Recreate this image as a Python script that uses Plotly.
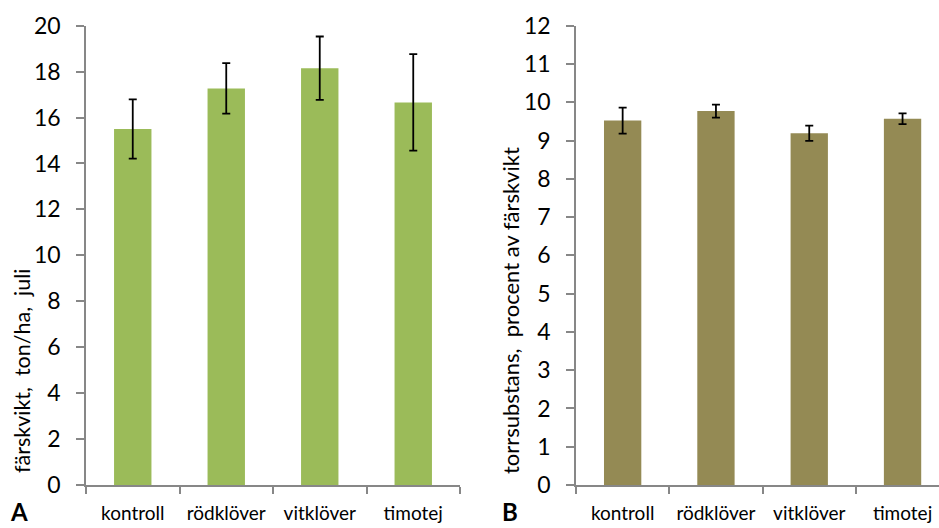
import plotly.graph_objects as go

categories = ["kontroll", "rödklöver", "vitklöver", "timotej"]
fresh_weight = [15.50, 17.27, 18.15, 16.66]
fresh_err = [1.29, 1.10, 1.38, 2.10]
dry_matter = [9.52, 9.77, 9.19, 9.57]
dry_err = [0.34, 0.17, 0.20, 0.14]
ticks_a = [0, 2, 4, 6, 8, 10, 12, 14, 16, 18, 20]
ticks_b = list(range(0, 13))

W, H = 939, 528
FONT = "Lato"
AXIS_COLOR = "#878787"

fig = go.Figure()
fig.add_trace(go.Bar(
    x=categories, y=fresh_weight, xaxis="x", yaxis="y",
    marker=dict(color="#9BBB59", line=dict(width=0)),
    error_y=dict(type="data", array=fresh_err, color="black", thickness=1.8, width=4),
    showlegend=False))
fig.add_trace(go.Bar(
    x=categories, y=dry_matter, xaxis="x2", yaxis="y2",
    marker=dict(color="#948A54", line=dict(width=0)),
    error_y=dict(type="data", array=dry_err, color="black", thickness=1.8, width=4),
    showlegend=False))

y0 = 1 - 485 / H
y1 = 1 - 25.7 / H

xcommon = dict(type="category", showline=True, linecolor=AXIS_COLOR, linewidth=1.5,
               ticks="outside", tickson="boundaries", ticklen=7, tickcolor=AXIS_COLOR,
               tickwidth=1.5, showgrid=False, zeroline=False, automargin=False,
               tickfont=dict(family=FONT, size=19, color="black"), ticklabelstandoff=10)
ycommon = dict(showline=True, linecolor=AXIS_COLOR, linewidth=1.5, ticks="outside",
               ticklen=8, tickcolor=AXIS_COLOR, tickwidth=1.5, showgrid=False,
               zeroline=False, automargin=False,
               tickfont=dict(family=FONT, size=23, color="black"),
               ticklabelstandoff=11)

fig.update_layout(
    width=W, height=H,
    margin=dict(l=0, r=0, t=0, b=0, autoexpand=False),
    paper_bgcolor="white", plot_bgcolor="white",
    bargap=0.6,
    xaxis=dict(domain=[86 / W, 460 / W], range=[-0.5, 3.5], anchor="y", **xcommon),
    yaxis=dict(domain=[y0, y1], range=[0, 20], tickvals=ticks_a, anchor="x", **ycommon),
    xaxis2=dict(domain=[576 / W, 1.0], range=[-0.5, -0.5 + 363 / 93.3], anchor="y2", **xcommon),
    yaxis2=dict(domain=[y0, y1], range=[0, 12], tickvals=ticks_b, anchor="x2", **ycommon),
    annotations=[
        dict(text="färskvikt,\u00a0 ton/ha,\u00a0 juli", x=22 / W, y=1 - 371 / H,
             xref="paper", yref="paper", textangle=-90, showarrow=False,
             xanchor="center", yanchor="middle", font=dict(family=FONT, size=21.5, color="black")),
        dict(text="torrsubstans,\u00a0 procent av färskvikt", x=510 / W, y=1 - 310 / H,
             xref="paper", yref="paper", textangle=-90, showarrow=False,
             xanchor="center", yanchor="middle", font=dict(family=FONT, size=22, color="black")),
        dict(text="<b>A</b>", x=19 / W, y=0, xref="paper", yref="paper",
             showarrow=False, xanchor="center", yanchor="bottom",
             font=dict(family=FONT, size=24, color="black")),
        dict(text="<b>B</b>", x=510 / W, y=0, xref="paper", yref="paper",
             showarrow=False, xanchor="center", yanchor="bottom",
             font=dict(family=FONT, size=24, color="black")),
    ],
)

fig.write_html("out.html", config={"displayModeBar": False},
               post_script="document.body.style.margin='0';document.body.style.overflow='hidden';")
